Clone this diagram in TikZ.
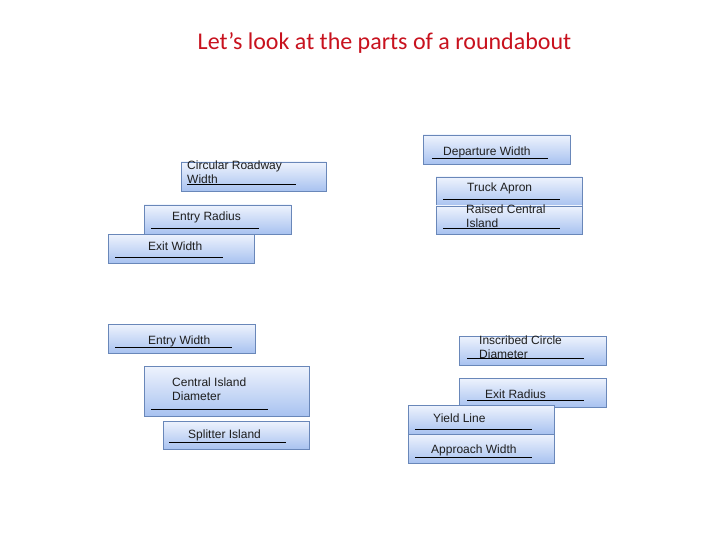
\documentclass[tikz,border=0pt]{standalone}
\usepackage{fontspec}
\setmainfont{Liberation Sans}
\newfontfamily\titlefont{Carlito}
\definecolor{titlered}{RGB}{200,18,30}
\definecolor{boxtop}{RGB}{238,243,253}
\definecolor{boxbot}{RGB}{168,194,240}
\definecolor{boxline}{RGB}{105,135,185}
\definecolor{txt}{RGB}{30,30,30}
\tikzset{
  rbox/.style={draw=boxline, line width=0.9pt, top color=boxtop, bottom color=boxbot, inner sep=0pt, rectangle},
  lbl/.style={anchor=base west, inner sep=0pt, text=txt, font=\fontsize{12}{14}\selectfont},
  uline/.style={draw=black, line width=0.9pt},
}
\newcommand\rbox[5]{\node[rbox, minimum width={#4-#2}, minimum height={#5-#3}] (#1) at ({(#2+#4)/2},{(#3+#5)/2}) {};}
\begin{document}
\begin{tikzpicture}[x=1pt,y=-1pt]
\useasboundingbox (0,0) rectangle (720,540);
\fill[white] (0,0) rectangle (720,540);
\node[anchor=base, inner sep=0pt, text=titlered, font=\titlefont\fontsize{24}{28}\selectfont] (title) at (384.5,50) {Let’s look at the parts of a roundabout};
% left column
\rbox{crw}{181}{162}{326}{191}
\node[lbl] (crwt1) at (187,170) {Circular Roadway};
\node[lbl] (crwt2) at (187,184) {Width};
\draw[uline] (187,184.5) -- (296,184.5);
\rbox{er}{144}{205}{291}{234}
\node[lbl] (ert) at (172,221) {Entry Radius};
\draw[uline] (151,228) -- (259,228);
\rbox{ew}{108}{234}{254}{263}
\node[lbl] (ewt) at (148,250) {Exit Width};
\draw[uline] (115,257) -- (223,257);
\rbox{enw}{108}{324}{255}{353}
\node[lbl] (enwt) at (148,344) {Entry Width};
\draw[uline] (115,347) -- (232,347);
\rbox{cid}{144}{366}{309}{416}
\node[lbl] (cidt1) at (172,386) {Central Island};
\node[lbl] (cidt2) at (172,400) {Diameter};
\draw[uline] (151,409) -- (268,409);
\rbox{spl}{163}{421}{309}{449}
\node[lbl] (splt) at (188,438) {Splitter Island};
\draw[uline] (169,442) -- (286,442);
% right column
\rbox{dw}{423}{135}{570}{164}
\node[lbl] (dwt) at (443,156) {Departure Width};
\draw[uline] (432,158) -- (548,158);
\rbox{ta}{436}{177}{582}{206}
\node[lbl] (tat) at (467,192) {Truck Apron};
\draw[uline] (443,199) -- (560,199);
\rbox{rci}{436}{206}{582}{234}
\node[lbl] (rcit1) at (466,214) {Raised Central};
\node[lbl] (rcit2) at (466,228) {Island};
\draw[uline] (443,228.5) -- (560,228.5);
\rbox{icd}{459}{336}{606}{365}
\node[lbl] (icdt1) at (479,344) {Inscribed Circle};
\node[lbl] (icdt2) at (479,358) {Diameter};
\draw[uline] (467,358.5) -- (584,358.5);
\rbox{xr}{459}{378}{606}{407}
\node[lbl] (xrt) at (485,398) {Exit Radius};
\draw[uline] (467,400) -- (584,400);
\rbox{yl}{408}{405}{554}{434}
\node[lbl] (ylt) at (433,422) {Yield Line};
\draw[uline] (415,429) -- (532,429);
\rbox{aw}{408}{434}{554}{463}
\node[lbl] (awt) at (431,453) {Approach Width};
\draw[uline] (415,457) -- (532,457);
\end{tikzpicture}
\end{document}
